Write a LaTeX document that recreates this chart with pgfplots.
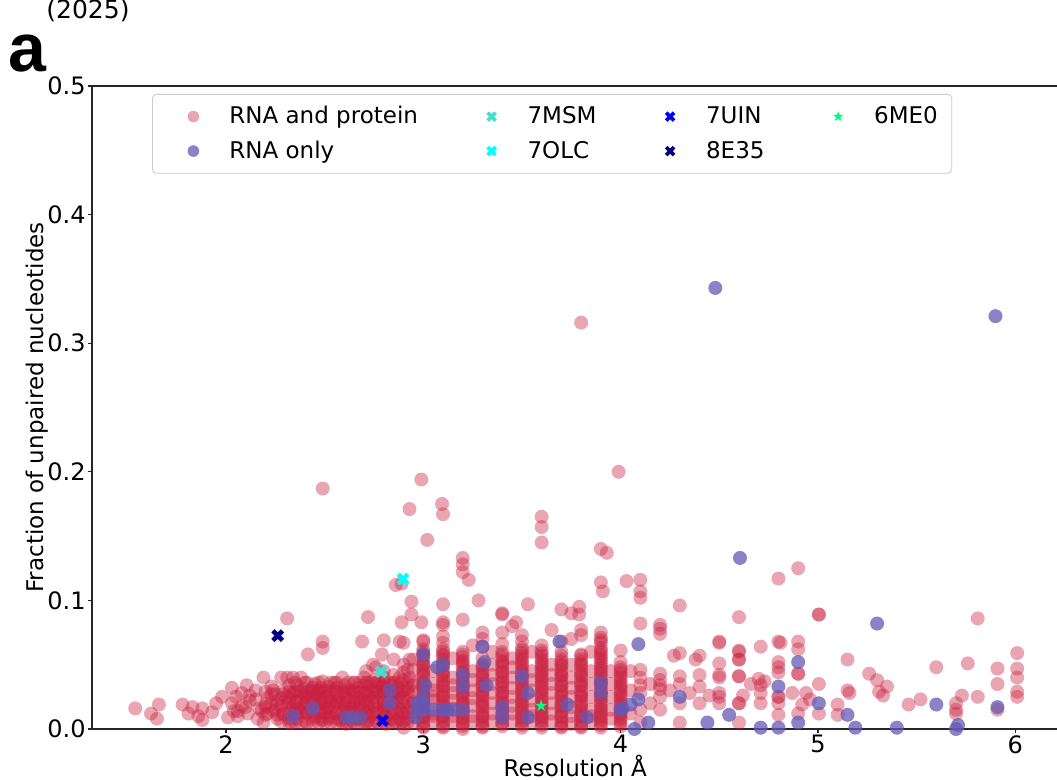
\documentclass[border=0pt]{standalone}
\usepackage{pgfplots}
\pgfplotsset{compat=1.18}
\usepackage{fontspec}
\setmainfont{DejaVu Sans}
\newfontfamily\labfont{Liberation Sans}
\definecolor{ptcol}{RGB}{200,30,62}
\definecolor{rnacol}{RGB}{100,88,180}
\definecolor{msm}{RGB}{64,224,208}
\definecolor{olc}{RGB}{0,255,255}
\definecolor{uin}{RGB}{0,0,255}
\definecolor{ees}{RGB}{0,0,128}
\definecolor{mez}{RGB}{0,255,127}
\pgfdeclareplotmark{fX}{%
  \pgfpathmoveto{\pgfqpoint{-0.5\pgfplotmarksize}{-\pgfplotmarksize}}%
  \pgfpathlineto{\pgfqpoint{0pt}{-0.5\pgfplotmarksize}}%
  \pgfpathlineto{\pgfqpoint{0.5\pgfplotmarksize}{-\pgfplotmarksize}}%
  \pgfpathlineto{\pgfqpoint{\pgfplotmarksize}{-0.5\pgfplotmarksize}}%
  \pgfpathlineto{\pgfqpoint{0.5\pgfplotmarksize}{0pt}}%
  \pgfpathlineto{\pgfqpoint{\pgfplotmarksize}{0.5\pgfplotmarksize}}%
  \pgfpathlineto{\pgfqpoint{0.5\pgfplotmarksize}{\pgfplotmarksize}}%
  \pgfpathlineto{\pgfqpoint{0pt}{0.5\pgfplotmarksize}}%
  \pgfpathlineto{\pgfqpoint{-0.5\pgfplotmarksize}{\pgfplotmarksize}}%
  \pgfpathlineto{\pgfqpoint{-\pgfplotmarksize}{0.5\pgfplotmarksize}}%
  \pgfpathlineto{\pgfqpoint{-0.5\pgfplotmarksize}{0pt}}%
  \pgfpathlineto{\pgfqpoint{-\pgfplotmarksize}{-0.5\pgfplotmarksize}}%
  \pgfpathclose\pgfusepathqfill}
\pgfdeclareplotmark{fstar}{%
  \pgfpathmoveto{\pgfpointpolar{90}{\pgfplotmarksize}}%
  \pgfpathlineto{\pgfpointpolar{126}{0.382\pgfplotmarksize}}%
  \pgfpathlineto{\pgfpointpolar{162}{\pgfplotmarksize}}%
  \pgfpathlineto{\pgfpointpolar{198}{0.382\pgfplotmarksize}}%
  \pgfpathlineto{\pgfpointpolar{234}{\pgfplotmarksize}}%
  \pgfpathlineto{\pgfpointpolar{270}{0.382\pgfplotmarksize}}%
  \pgfpathlineto{\pgfpointpolar{306}{\pgfplotmarksize}}%
  \pgfpathlineto{\pgfpointpolar{342}{0.382\pgfplotmarksize}}%
  \pgfpathlineto{\pgfpointpolar{18}{\pgfplotmarksize}}%
  \pgfpathlineto{\pgfpointpolar{54}{0.382\pgfplotmarksize}}%
  \pgfpathclose\pgfusepathqfill}
\begin{document}
\begin{tikzpicture}
\begin{axis}[
  at={(46pt,25.5pt)}, anchor=south west,
  scale only axis, width=483.3pt, height=321.5pt,
  xmin=1.3208, xmax=6.22, ymin=0, ymax=0.5,
  xtick={2,3,4,5,6}, ytick={0,0.1,0.2,0.3,0.4,0.5},
  xtick pos=left, ytick pos=left,
  yticklabel style={/pgf/number format/.cd, fixed, fixed zerofill, precision=1},
  /pgf/number format/assume math mode=true,
  tick align=outside, major tick length=2pt,
  tick style={black!85, line width=0.6pt},
  axis line style={black!85, line width=0.6pt},
  ticklabel style={font=\fontsize{12}{14}\selectfont, inner sep=1pt},
  xlabel={Resolution Å}, ylabel={Fraction of unpaired nucleotides},
  label style={font=\fontsize{11.5}{13}\selectfont},
  xlabel style={at={(axis description cs:0.5,0)}, anchor=base, yshift=-24pt},
  ylabel style={at={(axis description cs:-0.057,0.5)}, anchor=center},
  legend columns=4, legend cell align=left,
  legend image code/.code={\path[draw=none,fill=none] (0pt,-4pt) (20pt,4pt); \draw[#1] plot coordinates {(15.5pt,0pt)};},
  legend style={at={(axis description cs:0.0621,0.9876)}, anchor=north west,
    draw=black!20, rounded corners=2pt, fill=white,
    font=\fontsize{11.5}{13}\selectfont, inner xsep=5pt, inner ysep=4pt, row sep=3pt,
    /tikz/every even column/.append style={column sep=19.3pt},
    /tikz/every odd column/.append style={column sep=11.5pt}},
  legend entries={RNA and protein,7MSM,7UIN,6ME0,RNA only,7OLC,8E35},
]
\addlegendimage{only marks, mark=*, mark size=2.9pt, mark options={fill=ptcol, draw opacity=0, fill opacity=0.4}}
\addlegendimage{only marks, mark=fX, mark size=2.6pt, msm}
\addlegendimage{only marks, mark=fX, mark size=2.6pt, uin}
\addlegendimage{only marks, mark=fstar, mark size=2.8pt, mez}
\addlegendimage{only marks, mark=*, mark size=2.9pt, mark options={fill=rnacol, draw opacity=0, fill opacity=0.75}}
\addlegendimage{only marks, mark=fX, mark size=2.6pt, olc}
\addlegendimage{only marks, mark=fX, mark size=2.6pt, ees}

% RNA and protein
\addplot[forget plot, only marks, mark=*, mark size=3.5pt, mark options={fill=ptcol, draw opacity=0, fill opacity=0.4}] coordinates {
(1.54,0.016)(1.62,0.012)(1.65,0.008)(1.66,0.019)(1.78,0.019)(1.81,0.012)(1.83,0.017)(1.86,0.010)(1.88,0.016)(1.88,0.007)(1.93,0.013)(1.95,0.020)(1.98,0.025)(2.01,0.009)
(2.03,0.032)(2.03,0.020)(2.04,0.014)(2.05,0.025)(2.06,0.010)(2.08,0.018)(2.08,0.028)(2.105,0.034)(2.10,0.017)(2.11,0.012)(2.12,0.022)(2.15,0.023)(2.15,0.030)(2.16,0.008)(2.17,0.016)(2.19,0.040)(2.20,0.029)(2.20,0.017)(2.19,0.005)(2.21,0.024)(2.21,0.012)(2.23,0.020)(2.23,0.033)(2.25,0.015)(2.25,0.027)(2.26,0.022)(2.26,0.008)(2.28,0.040)(2.28,0.018)(2.29,0.030)(2.29,0.012)
(2.31,0.040)(2.31,0.025)(2.31,0.020)(2.32,0.034)(2.32,0.015)(2.34,0.040)(2.34,0.028)(2.34,0.018)(2.33,0.005)(2.36,0.022)(2.36,0.030)(2.36,0.012)(2.38,0.040)(2.38,0.016)(2.38,0.026)(2.40,0.036)(2.40,0.031)(2.40,0.020)(2.41,0.012)(2.41,0.025)(2.40,0.006)(2.43,0.015)(2.43,0.030)(2.45,0.022)(2.45,0.035)(2.45,0.010)(2.46,0.028)(2.46,0.018)(2.47,0.030)(2.48,0.014)(2.48,0.024)(2.49,0.037)
(2.50,0.030)(2.50,0.020)(2.50,0.012)(2.51,0.025)(2.49,0.007)(2.51,0.016)(2.52,0.033)(2.53,0.022)(2.53,0.010)(2.55,0.030)(2.55,0.018)(2.56,0.026)(2.56,0.012)(2.55,0.036)(2.57,0.022)(2.58,0.007)(2.59,0.040)(2.60,0.034)(2.60,0.028)(2.60,0.020)(2.60,0.014)(2.61,0.010)(2.61,0.024)(2.61,0.004)(2.62,0.031)(2.63,0.017)(2.65,0.036)(2.65,0.027)(2.65,0.020)(2.66,0.013)(2.66,0.008)(2.66,0.024)(2.67,0.032)(2.68,0.018)
(2.70,0.040)(2.70,0.034)(2.70,0.028)(2.70,0.022)(2.70,0.016)(2.71,0.012)(2.70,0.005)(2.71,0.045)(2.72,0.030)(2.72,0.020)(2.73,0.010)(2.75,0.038)(2.75,0.030)(2.75,0.024)(2.75,0.018)(2.76,0.012)(2.76,0.006)(2.76,0.048)(2.78,0.035)(2.78,0.026)(2.79,0.058)(2.80,0.045)(2.80,0.040)(2.80,0.034)(2.80,0.028)(2.80,0.022)(2.80,0.016)(2.81,0.010)(2.81,0.004)(2.82,0.030)(2.82,0.018)
(2.85,0.042)(2.85,0.036)(2.85,0.028)(2.85,0.020)(2.85,0.012)(2.86,0.006)(2.87,0.032)(2.87,0.024)(2.90,0.067)(2.90,0.050)(2.90,0.044)(2.90,0.038)(2.90,0.030)(2.90,0.024)(2.90,0.018)(2.90,0.012)(2.90,0.006)(2.90,0.001)(2.93,0.054)(2.93,0.040)(2.93,0.026)(2.95,0.046)(2.95,0.034)(2.95,0.020)(2.95,0.010)(2.95,0.054)
(2.31,0.086)(2.49,0.187)(2.415,0.058)(2.49,0.068)(2.49,0.063)(2.69,0.068)(2.72,0.087)(2.80,0.069)(2.745,0.050)(2.85,0.054)(2.88,0.068)(2.86,0.112)(2.89,0.113)(2.94,0.099)(2.89,0.083)(2.94,0.089)(2.99,0.083)(2.93,0.171)(2.99,0.194)(3.02,0.147)(3.095,0.175)(3.10,0.167)(3.20,0.133)(3.20,0.128)(3.20,0.122)(3.23,0.116)(3.28,0.100)(3.10,0.097)(3.40,0.090)(3.47,0.083)(3.45,0.080)(3.53,0.097)(3.65,0.077)(3.70,0.093)(3.79,0.095)(3.79,0.089)(3.60,0.165)(3.60,0.157)(3.60,0.145)(3.80,0.316)(3.99,0.200)(3.90,0.140)(3.93,0.137)(3.90,0.114)(3.91,0.107)(4.03,0.115)(4.10,0.116)(4.10,0.107)(4.10,0.102)(4.30,0.096)(4.10,0.082)(4.20,0.081)(4.20,0.074)(4.60,0.087)(4.80,0.117)(4.90,0.125)(5.005,0.089)(5.005,0.089)(5.81,0.086)
(3.00,0.069)(3.00,0.068)(3.00,0.062)(3.00,0.058)(3.00,0.054)(3.00,0.050)(3.00,0.046)(3.00,0.042)(3.00,0.038)(3.00,0.034)(3.00,0.030)(3.00,0.026)(3.00,0.022)(3.00,0.018)(3.00,0.014)(3.00,0.010)(3.00,0.006)(3.00,0.002)
(3.05,0.035)(3.05,0.025)(3.05,0.012)(3.05,0.045)
(3.10,0.083)(3.10,0.081)(3.10,0.072)(3.10,0.067)(3.10,0.062)(3.10,0.058)(3.10,0.054)(3.10,0.050)(3.10,0.046)(3.10,0.042)(3.10,0.038)(3.10,0.034)(3.10,0.030)(3.10,0.026)(3.10,0.022)(3.10,0.018)(3.10,0.014)(3.10,0.010)(3.10,0.006)(3.10,0.002)
(3.15,0.040)(3.15,0.028)(3.15,0.016)(3.15,0.055)
(3.20,0.085)(3.20,0.060)(3.20,0.056)(3.20,0.052)(3.20,0.048)(3.20,0.044)(3.20,0.040)(3.20,0.036)(3.20,0.032)(3.20,0.028)(3.20,0.024)(3.20,0.020)(3.20,0.016)(3.20,0.012)(3.20,0.008)(3.20,0.004)(3.20,0.000)
(3.25,0.045)(3.25,0.030)(3.25,0.018)(3.25,0.065)
(3.30,0.075)(3.30,0.070)(3.30,0.064)(3.30,0.055)(3.30,0.047)(3.30,0.042)(3.30,0.038)(3.30,0.034)(3.30,0.030)(3.30,0.026)(3.30,0.022)(3.30,0.018)(3.30,0.014)(3.30,0.010)(3.30,0.006)(3.30,0.002)
(3.35,0.050)(3.35,0.035)(3.35,0.020)(3.35,0.060)
(3.40,0.089)(3.40,0.075)(3.40,0.066)(3.40,0.060)(3.40,0.056)(3.40,0.052)(3.40,0.048)(3.40,0.044)(3.40,0.040)(3.40,0.036)(3.40,0.032)(3.40,0.028)(3.40,0.024)(3.40,0.020)(3.40,0.016)(3.40,0.012)(3.40,0.008)(3.40,0.004)
(3.45,0.055)(3.45,0.040)(3.45,0.025)(3.45,0.012)
(3.50,0.073)(3.50,0.068)(3.50,0.063)(3.50,0.059)(3.50,0.055)(3.50,0.051)(3.50,0.047)(3.50,0.043)(3.50,0.039)(3.50,0.035)(3.50,0.031)(3.50,0.027)(3.50,0.023)(3.50,0.019)(3.50,0.015)(3.50,0.011)(3.50,0.007)(3.50,0.003)
(3.55,0.060)(3.55,0.045)(3.55,0.030)(3.55,0.015)
(3.60,0.065)(3.60,0.061)(3.60,0.057)(3.60,0.053)(3.60,0.049)(3.60,0.045)(3.60,0.041)(3.60,0.037)(3.60,0.033)(3.60,0.029)(3.60,0.025)(3.60,0.021)(3.60,0.017)(3.60,0.013)(3.60,0.009)(3.60,0.005)(3.60,0.001)
(3.65,0.050)(3.65,0.035)(3.65,0.020)
(3.70,0.068)(3.70,0.060)(3.70,0.054)(3.70,0.050)(3.70,0.046)(3.70,0.042)(3.70,0.038)(3.70,0.034)(3.70,0.030)(3.70,0.026)(3.70,0.022)(3.70,0.018)(3.70,0.014)(3.70,0.010)(3.70,0.006)(3.70,0.002)
(3.75,0.090)(3.75,0.070)(3.75,0.040)(3.75,0.025)(3.75,0.010)
(3.80,0.077)(3.80,0.073)(3.80,0.058)(3.80,0.054)(3.80,0.050)(3.80,0.046)(3.80,0.042)(3.80,0.038)(3.80,0.034)(3.80,0.030)(3.80,0.026)(3.80,0.022)(3.80,0.018)(3.80,0.014)(3.80,0.010)(3.80,0.006)(3.80,0.002)
(3.85,0.060)(3.85,0.035)(3.85,0.015)
(3.90,0.075)(3.90,0.071)(3.90,0.067)(3.90,0.063)(3.90,0.059)(3.90,0.055)(3.90,0.051)(3.90,0.047)(3.90,0.043)(3.90,0.039)(3.90,0.035)(3.90,0.031)(3.90,0.027)(3.90,0.023)(3.90,0.019)(3.90,0.015)(3.90,0.011)(3.90,0.007)(3.90,0.003)
(3.95,0.045)(3.95,0.025)
(4.00,0.061)(4.00,0.052)(4.00,0.048)(4.00,0.044)(4.00,0.040)(4.00,0.036)(4.00,0.032)(4.00,0.028)(4.00,0.024)(4.00,0.020)(4.00,0.016)(4.00,0.012)(4.00,0.008)(4.00,0.004)
(4.05,0.030)(4.05,0.012)(4.05,0.045)
(4.10,0.046)(4.10,0.040)(4.10,0.034)(4.10,0.028)(4.10,0.015)(4.10,0.005)
(4.15,0.035)(4.15,0.020)
(4.20,0.078)(4.20,0.043)(4.20,0.038)(4.20,0.034)(4.20,0.031)(4.20,0.025)(4.20,0.015)(4.25,0.030)
(4.30,0.059)(4.27,0.057)(4.30,0.041)(4.30,0.035)(4.30,0.005)(4.30,0.020)(4.35,0.028)
(4.40,0.057)(4.38,0.054)(4.40,0.042)(4.40,0.033)(4.40,0.020)(4.45,0.026)
(4.50,0.068)(4.50,0.067)(4.50,0.051)(4.50,0.042)(4.50,0.040)(4.50,0.028)(4.50,0.025)(4.50,0.020)
(4.60,0.061)(4.60,0.060)(4.60,0.054)(4.60,0.054)(4.60,0.041)(4.60,0.041)(4.62,0.026)(4.60,0.020)(4.60,0.020)(4.60,0.005)
(4.66,0.035)(4.71,0.064)(4.70,0.039)(4.71,0.034)(4.71,0.028)(4.71,0.020)(4.73,0.037)
(4.80,0.068)(4.81,0.067)(4.80,0.052)(4.80,0.048)(4.80,0.044)(4.80,0.025)(4.80,0.025)(4.80,0.020)(4.80,0.011)
(4.87,0.028)(4.90,0.068)(4.90,0.062)(4.90,0.043)(4.90,0.043)(4.90,0.012)(4.92,0.019)(4.94,0.028)(4.96,0.023)
(5.005,0.035)(5.005,0.012)(5.10,0.019)(5.10,0.011)(5.15,0.054)(5.15,0.030)(5.16,0.028)(5.26,0.043)(5.30,0.038)(5.31,0.029)(5.33,0.026)(5.35,0.033)
(5.46,0.019)(5.52,0.023)(5.60,0.048)(5.70,0.020)(5.70,0.012)(5.70,0.015)(5.73,0.026)(5.76,0.051)(5.81,0.025)(5.91,0.047)(5.91,0.035)(5.91,0.015)
(6.01,0.059)(6.01,0.047)(6.01,0.040)(6.01,0.029)(6.01,0.025)
};
% RNA and protein, denser core
\addplot[forget plot, only marks, mark=*, mark size=3.5pt, mark options={fill=ptcol, draw opacity=0, fill opacity=0.4}] coordinates {
(2.06,0.014)(2.12,0.026)(2.18,0.014)(2.24,0.014)(2.24,0.030)(2.28,0.006)(2.28,0.024)
(2.32,0.008)(2.32,0.024)(2.36,0.008)(2.36,0.016)(2.36,0.034)(2.40,0.016)(2.40,0.026)(2.44,0.008)(2.44,0.024)(2.44,0.032)
(2.48,0.008)(2.48,0.020)(2.48,0.032)(2.52,0.008)(2.52,0.016)(2.52,0.026)(2.56,0.008)(2.56,0.020)(2.56,0.032)(2.60,0.008)(2.60,0.018)(2.60,0.030)
(2.64,0.006)(2.64,0.016)(2.64,0.030)(2.68,0.008)(2.68,0.024)(2.68,0.036)(2.72,0.006)(2.72,0.016)(2.72,0.026)(2.72,0.036)(2.76,0.016)(2.76,0.028)(2.76,0.036)
(2.80,0.008)(2.80,0.018)(2.80,0.032)(2.84,0.008)(2.84,0.016)(2.84,0.024)(2.84,0.034)(2.88,0.008)(2.88,0.016)(2.88,0.028)(2.88,0.040)(2.92,0.008)(2.92,0.016)(2.92,0.032)(2.92,0.046)
(3.00,0.004)(3.00,0.012)(3.00,0.020)(3.00,0.028)(3.00,0.036)(3.00,0.044)(3.00,0.052)(3.00,0.060)
(3.10,0.004)(3.10,0.012)(3.10,0.020)(3.10,0.028)(3.10,0.036)(3.10,0.044)(3.10,0.052)(3.10,0.060)
(3.20,0.002)(3.20,0.010)(3.20,0.018)(3.20,0.026)(3.20,0.034)(3.20,0.042)(3.20,0.050)(3.20,0.058)
(3.30,0.004)(3.30,0.012)(3.30,0.020)(3.30,0.028)(3.30,0.036)(3.30,0.044)(3.30,0.050)
(3.40,0.002)(3.40,0.010)(3.40,0.018)(3.40,0.026)(3.40,0.034)(3.40,0.042)(3.40,0.050)(3.40,0.058)
(3.50,0.005)(3.50,0.013)(3.50,0.021)(3.50,0.029)(3.50,0.037)(3.50,0.045)(3.50,0.053)(3.50,0.061)
(3.60,0.003)(3.60,0.011)(3.60,0.019)(3.60,0.027)(3.60,0.035)(3.60,0.043)(3.60,0.051)(3.60,0.059)
(3.70,0.004)(3.70,0.012)(3.70,0.020)(3.70,0.028)(3.70,0.036)(3.70,0.044)(3.70,0.052)
(3.80,0.004)(3.80,0.012)(3.80,0.020)(3.80,0.028)(3.80,0.036)(3.80,0.044)(3.80,0.052)
(3.90,0.005)(3.90,0.013)(3.90,0.021)(3.90,0.029)(3.90,0.037)(3.90,0.045)(3.90,0.053)(3.90,0.061)(3.90,0.069)
(4.00,0.006)(4.00,0.014)(4.00,0.022)(4.00,0.030)(4.00,0.038)(4.00,0.046)
(3.05,0.006)(3.05,0.022)(3.15,0.006)(3.15,0.022)(3.25,0.006)(3.25,0.038)(3.35,0.006)(3.35,0.028)(3.45,0.006)(3.45,0.032)
(3.55,0.006)(3.55,0.022)(3.65,0.006)(3.65,0.028)(3.75,0.004)(3.75,0.032)(3.85,0.006)(3.85,0.025)(3.95,0.008)(3.95,0.035)
};
% RNA and protein, third layer of the core
\addplot[forget plot, only marks, mark=*, mark size=3.5pt, mark options={fill=ptcol, draw opacity=0, fill opacity=0.4}] coordinates {
(2.20,0.011)(2.20,0.019)(2.23,0.027)(2.26,0.011)(2.26,0.019)(2.29,0.011)(2.29,0.027)
(2.32,0.005)(2.32,0.013)(2.32,0.021)(2.32,0.029)(2.35,0.005)(2.35,0.013)(2.35,0.021)(2.35,0.029)(2.35,0.036)
(2.38,0.005)(2.38,0.013)(2.38,0.021)(2.38,0.029)(2.41,0.005)(2.41,0.013)(2.41,0.021)(2.41,0.029)(2.41,0.036)
(2.44,0.005)(2.44,0.013)(2.44,0.021)(2.44,0.029)(2.47,0.005)(2.47,0.013)(2.47,0.021)(2.47,0.029)(2.47,0.036)
(2.50,0.005)(2.50,0.013)(2.50,0.021)(2.50,0.029)(2.53,0.005)(2.53,0.013)(2.53,0.021)(2.53,0.029)(2.53,0.036)
(2.56,0.005)(2.56,0.013)(2.56,0.021)(2.56,0.029)(2.56,0.036)(2.59,0.005)(2.59,0.013)(2.59,0.021)(2.59,0.029)
(2.62,0.005)(2.62,0.013)(2.62,0.021)(2.62,0.029)(2.62,0.036)(2.65,0.005)(2.65,0.013)(2.65,0.021)(2.65,0.029)(2.65,0.036)
(2.68,0.005)(2.68,0.013)(2.68,0.021)(2.68,0.029)(2.71,0.005)(2.71,0.013)(2.71,0.021)(2.71,0.029)(2.71,0.036)
(2.74,0.005)(2.74,0.013)(2.74,0.021)(2.74,0.029)(2.74,0.036)(2.77,0.005)(2.77,0.013)(2.77,0.021)(2.77,0.029)(2.77,0.036)
(2.80,0.005)(2.80,0.013)(2.80,0.021)(2.80,0.029)(2.80,0.036)(2.83,0.005)(2.83,0.013)(2.83,0.021)(2.83,0.029)(2.83,0.036)
(2.86,0.005)(2.86,0.013)(2.86,0.021)(2.86,0.029)(2.86,0.036)(2.89,0.005)(2.89,0.013)(2.89,0.021)(2.89,0.029)(2.89,0.036)
(2.92,0.005)(2.92,0.013)(2.92,0.021)(2.92,0.029)(2.92,0.036)(2.95,0.005)(2.95,0.013)(2.95,0.021)(2.95,0.029)(2.95,0.036)
(3.00,0.001)(3.00,0.009)(3.00,0.017)(3.00,0.025)(3.00,0.033)(3.00,0.041)(3.00,0.049)(3.00,0.057)
(3.10,0.001)(3.10,0.009)(3.10,0.017)(3.10,0.025)(3.10,0.033)(3.10,0.041)(3.10,0.049)(3.10,0.057)
(3.20,0.005)(3.20,0.013)(3.20,0.021)(3.20,0.029)(3.20,0.037)(3.20,0.045)(3.20,0.053)
(3.30,0.001)(3.30,0.009)(3.30,0.017)(3.30,0.025)(3.30,0.033)(3.30,0.041)(3.30,0.049)
(3.40,0.005)(3.40,0.013)(3.40,0.021)(3.40,0.029)(3.40,0.037)(3.40,0.045)(3.40,0.053)
(3.50,0.001)(3.50,0.009)(3.50,0.017)(3.50,0.025)(3.50,0.033)(3.50,0.041)(3.50,0.049)(3.50,0.057)
(3.60,0.007)(3.60,0.015)(3.60,0.023)(3.60,0.031)(3.60,0.039)(3.60,0.047)(3.60,0.055)
(3.70,0.001)(3.70,0.009)(3.70,0.017)(3.70,0.025)(3.70,0.033)(3.70,0.041)(3.70,0.049)(3.70,0.057)
(3.80,0.001)(3.80,0.009)(3.80,0.017)(3.80,0.025)(3.80,0.033)(3.80,0.041)(3.80,0.049)(3.80,0.057)
(3.90,0.001)(3.90,0.009)(3.90,0.017)(3.90,0.025)(3.90,0.033)(3.90,0.041)(3.90,0.049)(3.90,0.057)
(4.00,0.002)(4.00,0.010)(4.00,0.018)(4.00,0.026)(4.00,0.034)(4.00,0.042)
(3.05,0.010)(3.05,0.030)(3.15,0.010)(3.15,0.034)(3.25,0.010)(3.25,0.024)(3.35,0.012)(3.35,0.042)(3.45,0.018)(3.45,0.048)
(3.55,0.010)(3.55,0.038)(3.65,0.012)(3.65,0.042)(3.75,0.017)(3.75,0.050)(3.85,0.010)(3.85,0.045)(3.95,0.015)
};
% RNA only
\addplot[forget plot, only marks, mark=*, mark size=3.5pt, mark options={fill=rnacol, draw opacity=0, fill opacity=0.75}] coordinates {
(4.48,0.343)(5.9,0.321)(4.605,0.133)(5.30,0.082)(4.90,0.052)(4.80,0.033)(5.005,0.020)(5.60,0.019)(5.91,0.017)(4.55,0.011)(5.15,0.011)(4.44,0.005)(4.90,0.005)(4.71,0.001)(4.80,0.001)(5.19,0.001)(5.40,0.001)(5.71,0.003)(5.70,0.000)
(4.09,0.066)(4.09,0.023)(4.05,0.019)(4.30,0.025)(4.14,0.005)(4.07,0.000)(4.00,0.015)(3.90,0.036)(3.90,0.028)(3.69,0.068)(3.73,0.019)(3.83,0.009)(3.53,0.028)(3.50,0.041)(3.53,0.009)(3.40,0.017)(3.40,0.009)(3.30,0.064)(3.31,0.052)(3.32,0.034)(3.20,0.042)(3.20,0.033)(3.10,0.050)(3.00,0.058)(3.01,0.034)
(3.00,0.015)(3.05,0.015)(3.10,0.015)(3.15,0.015)(3.20,0.015)(3.00,0.020)(3.00,0.025)(2.83,0.030)(2.83,0.020)(2.97,0.020)(2.97,0.016)(2.96,0.009)(3.07,0.048)(3.12,0.015)(2.44,0.016)(2.34,0.010)(2.61,0.009)(2.64,0.009)(2.68,0.009)(4.01,0.016)
};
\addplot[forget plot, only marks, mark=fX, mark size=3.2pt, msm] coordinates {(2.786,0.0446)};
\addplot[forget plot, only marks, mark=fX, mark size=3.2pt, olc] coordinates {(2.897,0.1166)};
\addplot[forget plot, only marks, mark=fX, mark size=3.2pt, uin] coordinates {(2.794,0.0065)};
\addplot[forget plot, only marks, mark=fX, mark size=3.2pt, ees] coordinates {(2.262,0.0726)};
\addplot[forget plot, only marks, mark=fstar, mark size=3.2pt, mez] coordinates {(3.597,0.018)};
\end{axis}
\node[anchor=base west, inner sep=0pt, font=\fontsize{12.5}{14}\selectfont] at (23pt,380.5pt) {(2025)};
\node[anchor=base west, inner sep=0pt, font=\labfont\bfseries\fontsize{34}{36}\selectfont] at (4pt,354pt) {a};
\pgfresetboundingbox
\useasboundingbox (0,0) rectangle (528.5pt,390pt);
\end{tikzpicture}
\end{document}
